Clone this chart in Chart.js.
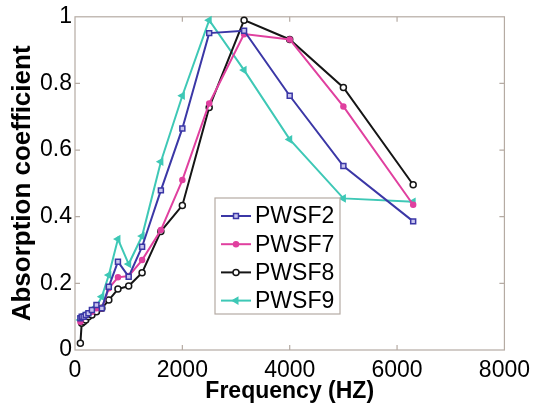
<!DOCTYPE html>
<html>
<head>
<meta charset="utf-8">
<script src="https://cdn.jsdelivr.net/npm/chart.js@4.4.1/dist/chart.umd.min.js"></script>
<style>
  html, body { margin: 0; padding: 0; background: #fff; }
  #wrap { width: 537px; height: 408px; }
</style>
</head>
<body>
<div id="wrap"><canvas id="myChart" width="537" height="408"></canvas></div>
<script>
// one-third octave band centres (Hz)
const freqs = [100, 125, 160, 200, 250, 315, 400, 500, 630, 800, 1000, 1250, 1600, 2000, 2500, 3150, 4000, 5000, 6300];

// absorption coefficient
const pwsf2 = [0.095, 0.10, 0.10, 0.105, 0.11, 0.12, 0.135, 0.125, 0.19, 0.265, 0.22, 0.31, 0.479, 0.665, 0.951, 0.958, 0.763, 0.552, 0.386];
const pwsf7 = [0.085, 0.095, 0.10, 0.105, 0.11, 0.115, 0.125, 0.125, 0.185, 0.218, 0.222, 0.27, 0.36, 0.51, 0.74, 0.948, 0.932, 0.731, 0.436];
const pwsf8 = [0.02, 0.08, 0.085, 0.09, 0.10, 0.105, 0.115, 0.125, 0.15, 0.183, 0.192, 0.232, 0.356, 0.434, 0.728, 0.99, 0.932, 0.788, 0.496];
const pwsf9 = [0.09, 0.10, 0.105, 0.105, 0.11, 0.115, 0.13, 0.16, 0.225, 0.333, 0.258, 0.342, 0.565, 0.763, 0.99, 0.84, 0.632, 0.455, 0.445];

const seriesNames = ['PWSF2', 'PWSF7', 'PWSF8', 'PWSF9'];
const xTicks = [0, 2000, 4000, 6000, 8000];
const yTicks = [0, 0.2, 0.4, 0.6, 0.8, 1];

const frameColor = '#b5aba3';

function pts(vals) {
  return freqs.map((f, i) => ({ x: f, y: vals[i] }));
}

function makeSet(label, vals, color, style) {
  return Object.assign({
    label: label,
    data: pts(vals),
    showLine: true,
    borderColor: color,
    borderWidth: 2,
    pointBorderColor: color,
    pointBorderWidth: 1.5,
    clip: false
  }, style);
}

const datasets = [
  makeSet(seriesNames[0], pwsf2, '#3b37a6', { pointStyle: 'rect', pointRadius: 3.5, pointBackgroundColor: '#c8c5ee' }),
  makeSet(seriesNames[1], pwsf7, '#e0409f', { pointStyle: 'circle', pointRadius: 2.5, pointBackgroundColor: '#e0409f' }),
  makeSet(seriesNames[2], pwsf8, '#151515', { pointStyle: 'circle', pointRadius: 3, pointBackgroundColor: '#ffffff' }),
  makeSet(seriesNames[3], pwsf9, '#3ec8b6', { pointStyle: 'triangle', pointRotation: 270, pointRadius: 3.5, pointBackgroundColor: '#3ec8b6' })
];

// box round the plot with inward tick marks, matlab style
const framePlugin = {
  id: 'frame',
  beforeDatasetsDraw(chart) {
    const ctx = chart.ctx;
    const a = chart.chartArea;
    const xs = chart.scales.x, ys = chart.scales.y;
    ctx.save();
    ctx.strokeStyle = frameColor;
    ctx.lineWidth = 1.2;
    ctx.strokeRect(a.left, a.top, a.right - a.left, a.bottom - a.top);
    ctx.beginPath();
    xTicks.slice(1, -1).forEach(v => {
      const px = xs.getPixelForValue(v);
      ctx.moveTo(px, a.bottom); ctx.lineTo(px, a.bottom - 5);
      ctx.moveTo(px, a.top); ctx.lineTo(px, a.top + 5);
    });
    yTicks.slice(1, -1).forEach(v => {
      const py = ys.getPixelForValue(v);
      ctx.moveTo(a.left, py); ctx.lineTo(a.left + 5, py);
      ctx.moveTo(a.right, py); ctx.lineTo(a.right - 5, py);
    });
    ctx.stroke();
    ctx.restore();
  }
};

// legend box sitting inside the axes
const legendPlugin = {
  id: 'boxLegend',
  afterDraw(chart) {
    const ctx = chart.ctx;
    const bx = 215, by = 198, bw = 125, bh = 116;
    ctx.save();
    ctx.fillStyle = '#fff';
    ctx.fillRect(bx, by, bw, bh);
    ctx.strokeStyle = frameColor;
    ctx.lineWidth = 1.2;
    ctx.strokeRect(bx, by, bw, bh);
    chart.data.datasets.forEach((ds, i) => {
      const y = 216 + i * 28.2;
      ctx.strokeStyle = ds.borderColor;
      ctx.lineWidth = 2;
      ctx.beginPath();
      ctx.moveTo(221, y); ctx.lineTo(251, y);
      ctx.stroke();
      ctx.fillStyle = ds.pointBackgroundColor;
      ctx.lineWidth = ds.pointBorderWidth;
      Chart.helpers.drawPoint(ctx, {
        pointStyle: ds.pointStyle,
        rotation: ds.pointRotation || 0,
        radius: ds.pointRadius,
        borderWidth: ds.pointBorderWidth
      }, 236, y);
      ctx.fillStyle = '#000';
      ctx.font = '23px "Liberation Sans", Arial, sans-serif';
      ctx.textAlign = 'left';
      ctx.textBaseline = 'middle';
      ctx.fillText(ds.label, 255, y + 1);
    });
    ctx.restore();
  }
};

new Chart(document.getElementById('myChart'), {
  type: 'scatter',
  data: { datasets: datasets },
  options: {
    responsive: false,
    animation: false,
    layout: { padding: { top: 16, right: 28, left: 0, bottom: 0 } },
    plugins: { legend: { display: false }, tooltip: { enabled: false } },
    scales: {
      x: {
        type: 'linear',
        min: 0, max: 8000,
        afterBuildTicks: s => { s.ticks = xTicks.map(v => ({ value: v })); },
        afterFit: s => { s.height = 58; },
        grid: { display: false, drawTicks: false },
        border: { display: false },
        ticks: {
          padding: 7,
          color: '#000',
          font: { family: '"Liberation Sans", Arial, sans-serif', size: 23 },
          callback: v => String(v)
        },
        title: {
          display: true,
          text: 'Frequency (HZ)',
          color: '#000',
          font: { family: '"Liberation Sans", Arial, sans-serif', size: 23, weight: 'bold' },
          padding: { top: 0, bottom: 3 }
        }
      },
      y: {
        type: 'linear',
        min: 0, max: 1,
        afterBuildTicks: s => { s.ticks = yTicks.map(v => ({ value: v })); },
        afterFit: s => { s.width = 75; },
        grid: { display: false, drawTicks: false },
        border: { display: false },
        ticks: {
          padding: 3,
          color: '#000',
          font: { family: '"Liberation Sans", Arial, sans-serif', size: 23 },
          callback: v => String(v)
        },
        title: {
          display: true,
          text: 'Absorption coefficient',
          color: '#000',
          font: { family: '"Liberation Sans", Arial, sans-serif', size: 26, weight: 'bold' },
          padding: { top: 7, bottom: 0 }
        }
      }
    }
  },
  plugins: [framePlugin, legendPlugin]
});
</script>
</body>
</html>
